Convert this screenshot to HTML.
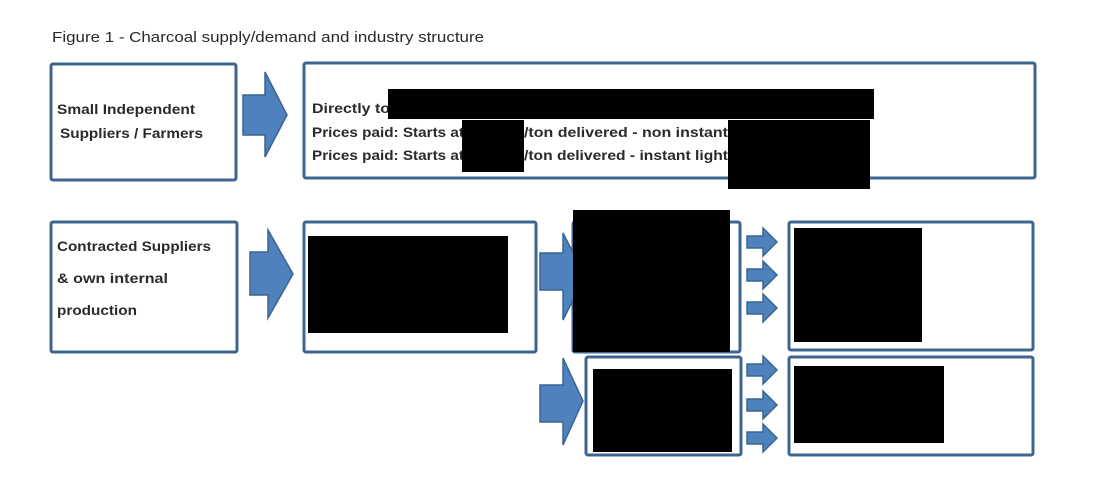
<!DOCTYPE html>
<html><head><meta charset="utf-8"><style>
html,body{margin:0;padding:0;background:#fff;width:1107px;height:490px;overflow:hidden}
svg{display:block}
text{font-family:"Liberation Sans",sans-serif;font-size:14px;font-weight:bold;fill:#2a2a2a}
</style></head><body>
<svg width="1107" height="490" viewBox="0 0 1107 490">
<text x="52" y="42" textLength="432" lengthAdjust="spacingAndGlyphs" style="font-weight:normal;font-size:14.5px">Figure 1 - Charcoal supply/demand and industry structure</text>
<g fill="#fff" stroke="#3d6590" stroke-width="3">
<rect x="51" y="64" width="185" height="116" rx="2"/>
<rect x="304" y="63" width="731" height="115" rx="2"/>
<rect x="51" y="222" width="186" height="130" rx="2"/>
<rect x="304" y="222" width="232" height="130" rx="2"/>
<rect x="573" y="222" width="167" height="130" rx="2"/>
<rect x="586" y="357" width="155" height="98" rx="2"/>
<rect x="789" y="222" width="244" height="128" rx="2"/>
<rect x="789" y="357" width="244" height="98" rx="2"/>
</g>
<g fill="#4f81bd" stroke="#3a6591" stroke-width="1.5">
<polygon points="243,95 265,95 265,72 287,115 265,157 265,135 243,135"/>
<polygon points="250,252 268,252 268,230 293,274 268,318 268,295 250,295"/>
<polygon points="540,253 563,253 563,233 585,276 563,320 563,290 540,290"/>
<polygon points="540,385 563,385 563,358 583,401 563,445 563,422 540,422"/>
<g id="sa"><polygon points="747,236 763,236 763,228 777,242 763,256 763,248 747,248"/></g>
<use href="#sa" y="33"/><use href="#sa" y="66"/>
<use href="#sa" y="128"/><use href="#sa" y="163"/><use href="#sa" y="196"/>
</g>
<text x="57" y="114" textLength="138" lengthAdjust="spacingAndGlyphs">Small Independent</text>
<text x="60" y="138" textLength="143" lengthAdjust="spacingAndGlyphs">Suppliers / Farmers</text>
<text x="57" y="251" textLength="154" lengthAdjust="spacingAndGlyphs">Contracted Suppliers</text>
<text x="57" y="283" textLength="111" lengthAdjust="spacingAndGlyphs">&amp; own internal</text>
<text x="57" y="315" textLength="80" lengthAdjust="spacingAndGlyphs">production</text>
<text x="312" y="113" textLength="78" lengthAdjust="spacingAndGlyphs">Directly to</text>
<text x="312" y="137" textLength="152" lengthAdjust="spacingAndGlyphs">Prices paid: Starts at</text>
<text x="524" y="137" textLength="204" lengthAdjust="spacingAndGlyphs">/ton delivered - non instant</text>
<text x="312" y="160" textLength="152" lengthAdjust="spacingAndGlyphs">Prices paid: Starts at</text>
<text x="524" y="160" textLength="204" lengthAdjust="spacingAndGlyphs">/ton delivered - instant light</text>
<g fill="#000">
<rect x="388" y="89" width="486" height="30"/>
<rect x="462" y="120" width="62" height="52"/>
<rect x="728" y="120" width="142" height="69"/>
<rect x="308" y="236" width="200" height="97"/>
<rect x="573" y="210" width="157" height="142"/>
<rect x="593" y="369" width="139" height="83"/>
<rect x="794" y="228" width="128" height="114"/>
<rect x="794" y="366" width="150" height="77"/>
</g>
</svg>
</body></html>
